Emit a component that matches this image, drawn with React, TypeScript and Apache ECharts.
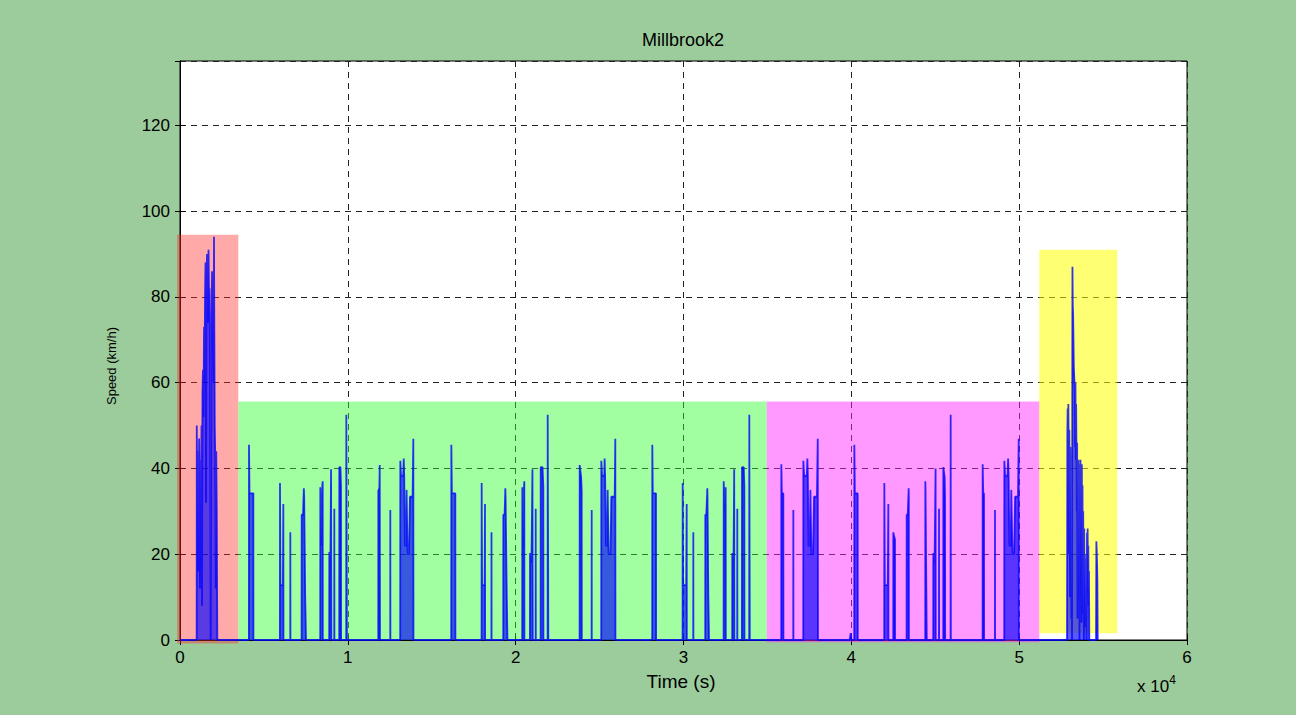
import React, { useEffect, useRef } from "react";
import * as echarts from "echarts";

// ---- Axis setup ----
const xMin = 0;
const xMax = 60000;
const yMin = 0;
const yMax = 135;
const xTickStep = 10000;
const yTickStep = 20;

// ---- Shaded phases: [start s, end s, bottom km/h, top km/h] ----
const phaseNames = ["red", "green", "magenta", "yellow"];
const phaseStart = [-170, 3474, 34958, 51200];
const phaseEnd = [3474, 34958, 51200, 55848];
const phaseBottom = [-0.8, 0, -0.5, 1.6];
const phaseTop = [94.5, 55.6, 55.6, 91];

// ---- Speed trace (time s, speed km/h) ----
const redTrace: [number, number][] = [
  [0, 0], [993, 0], [1000, 50], [1020, 40], [1040, 26], [1060, 40], [1080, 16], [1100, 44],
  [1120, 20], [1140, 47], [1160, 36], [1190, 12], [1220, 42], [1250, 30], [1280, 50], [1310, 8],
  [1340, 58], [1370, 63], [1400, 52], [1430, 73], [1460, 60], [1490, 80], [1520, 88], [1550, 32],
  [1580, 85], [1610, 90], [1640, 82], [1670, 74], [1700, 91], [1730, 80], [1760, 82], [1790, 60],
  [1815, 20], [1827, 0], [1860, 0], [1880, 75], [1910, 86], [1940, 70], [1970, 82], [2000, 60],
  [2026, 94], [2045, 73], [2070, 50], [2100, 43], [2130, 12], [2160, 44], [2190, 30], [2224, 0],
];

const greenTrace: [number, number][] = [
  [4105, 0], [4111, 45.5], [4140, 34.2], [4370, 34.2], [4375, 0],
  [5952, 0], [5958, 36.6], [5985, 12.8], [6130, 12.8], [6157, 31.7], [6165, 0],
  [6570, 0], [6574, 25.1], [6580, 0],
  [7245, 0], [7250, 29.2], [7330, 29.2], [7380, 35.4], [7400, 33], [7460, 10], [7508, 0],
  [8355, 0], [8360, 35.6], [8420, 22], [8480, 36], [8503, 37.0], [8508, 0],
  [8890, 0], [8896, 20.5], [8960, 18], [9000, 39.8], [9015, 39.8], [9020, 0],
  [9190, 0], [9194, 30.6], [9200, 0],
  [9488, 0], [9492, 40.3], [9560, 40.3], [9593, 35.8], [9598, 0],
  [9905, 0], [9910, 52.5], [9930, 24], [9945, 0],
  [11812, 0], [11817, 34.8], [11880, 35.5], [11900, 40.8], [11917, 0],
  [12527, 0], [12531, 30.3], [12536, 0],
  [13120, 0], [13127, 41.8], [13170, 38.3], [13300, 38.3], [13330, 42.3], [13360, 38.3], [13400, 22],
  [13470, 22], [13500, 35], [13560, 20], [13650, 20], [13700, 33.4], [13860, 33.4], [13902, 46.9], [13910, 0],
  [16160, 0], [16167, 45.5], [16200, 34.2], [16405, 34.2], [16410, 0],
  [17968, 0], [17974, 36.6], [18000, 12.8], [18150, 12.8], [18173, 31.7], [18180, 0],
  [18555, 0], [18560, 25.1], [18566, 0],
  [19260, 0], [19265, 29.2], [19340, 29.2], [19384, 35.4], [19400, 33], [19470, 10], [19510, 0],
  [20390, 0], [20396, 35.6], [20460, 22], [20500, 36], [20515, 37], [20520, 0],
  [20850, 0], [20854, 20.3], [20940, 18], [21000, 39.8], [21013, 39.8], [21018, 0],
  [21190, 0], [21194, 30.6], [21200, 0],
  [21488, 0], [21492, 40.3], [21600, 40.3], [21648, 35.8], [21655, 0],
  [21904, 0], [21909, 52.5], [21930, 24], [21945, 0],
  [23810, 0], [23815, 40.8], [23900, 38], [23934, 34.8], [23940, 0],
  [24525, 0], [24530, 30.3], [24535, 0],
  [25098, 0], [25103, 41.8], [25150, 38.3], [25280, 38.3], [25300, 42.3], [25330, 38.3], [25380, 22],
  [25450, 22], [25480, 35], [25540, 20], [25650, 20], [25700, 33.4], [25900, 33.4], [25937, 46.9], [25945, 0],
  [28135, 0], [28141, 45.5], [28170, 34.2], [28362, 34.2], [28368, 0],
  [29946, 0], [29952, 36.6], [29980, 12.8], [30160, 12.8], [30191, 31.7], [30198, 0],
  [30580, 0], [30585, 25.1], [30590, 0],
  [31295, 0], [31300, 29.2], [31360, 29.2], [31419, 35.4], [31430, 33], [31480, 10], [31520, 0],
  [32390, 0], [32396, 37], [32460, 30], [32515, 35.6], [32520, 0],
  [32902, 0], [32907, 20.3], [32980, 18], [33020, 39.8], [33026, 39.8], [33032, 0],
  [33200, 0], [33205, 30.6], [33210, 0],
  [33480, 0], [33486, 40.3], [33590, 40.3], [33625, 35.8], [33632, 0],
  [33916, 0], [33921, 52.5], [33935, 24], [33950, 0],
];

const magentaTrace: [number, number][] = [
  [35824, 0], [35829, 41], [35860, 34.2], [35948, 34.2], [35955, 0],
  [36540, 0], [36544, 30.3], [36550, 0],
  [37135, 0], [37140, 41.8], [37190, 38.3], [37350, 38.3], [37380, 42.3], [37410, 38.3], [37450, 22],
  [37530, 22], [37560, 35], [37620, 20], [37720, 20], [37780, 33.4], [37950, 33.4], [38000, 46.9], [38014, 0],
  [39900, 0], [39962, 1.6], [40000, 0],
  [40173, 0], [40179, 45.5], [40210, 34.2], [40378, 34.2], [40385, 0],
  [41960, 0], [41966, 36.6], [41995, 12.8], [42170, 12.8], [42204, 31.7], [42210, 0],
  [42498, 0], [42502, 25.1], [42560, 24], [42601, 23.5], [42606, 0],
  [43294, 0], [43299, 29.2], [43360, 29.2], [43418, 35.4], [43425, 33], [43430, 0],
  [44404, 0], [44409, 37], [44420, 35], [44489, 2], [44495, 0],
  [44880, 0], [44886, 20.3], [44960, 18], [45020, 40], [45025, 40], [45030, 0],
  [45220, 0], [45224, 30.6], [45230, 0],
  [45478, 0], [45482, 40.3], [45560, 38], [45582, 33.4], [45590, 0],
  [45915, 0], [45920, 52.5], [45930, 0],
  [47820, 0], [47826, 41], [47860, 34.2], [47905, 34.2], [47910, 0],
  [48555, 0], [48560, 30.3], [48565, 0],
  [49110, 0], [49117, 41.8], [49160, 38.3], [49310, 38.3], [49340, 42.3], [49370, 38.3], [49420, 22],
  [49500, 22], [49530, 35], [49600, 20], [49700, 20], [49760, 33.4], [49930, 33.4], [49973, 46.9], [49980, 0],
];

const yellowTrace: [number, number][] = [
  [52850, 0], [52870, 48], [52890, 54], [52910, 30], [52930, 55], [52950, 45], [52970, 20], [52990, 49],
  [53010, 34], [53030, 10], [53050, 45], [53070, 25], [53090, 40], [53110, 5], [53130, 34], [53150, 0],
  [53165, 60], [53175, 87], [53195, 78], [53215, 76], [53235, 70], [53255, 64], [53275, 62], [53295, 60],
  [53315, 58], [53335, 45], [53355, 60], [53375, 42], [53395, 55], [53415, 44], [53435, 30], [53455, 46],
  [53475, 5], [53495, 42], [53515, 20], [53535, 42], [53555, 10], [53575, 41], [53595, 0], [53615, 40],
  [53635, 15], [53655, 42], [53675, 25], [53695, 38], [53715, 4], [53735, 41], [53755, 18], [53775, 36],
  [53795, 6], [53815, 30], [53835, 12], [53855, 0], [53875, 26], [53895, 10], [53915, 20], [53935, 3],
  [53955, 19], [53975, 5], [53995, 17], [54015, 0], [54040, 25], [54060, 18], [54080, 26], [54100, 15],
  [54120, 22], [54140, 8], [54160, 16], [54180, 0], [54580, 0], [54600, 23], [54620, 21], [54640, 18],
  [54660, 14], [54680, 0],
];

const phaseColors = [
  "rgba(255,40,40,0.40)",
  "rgba(40,255,40,0.44)",
  "rgba(255,30,255,0.46)",
  "rgba(255,255,0,0.55)",
];

export default function App() {
  const ref = useRef<HTMLDivElement>(null);
  useEffect(() => {
    if (!ref.current) return;
    const chart = echarts.init(ref.current, undefined, { renderer: "svg" });
    const trace = [...redTrace, ...greenTrace, ...magentaTrace, ...yellowTrace];
    const phaseRows = phaseNames.map((_, i) => [phaseStart[i], phaseEnd[i], phaseBottom[i], phaseTop[i], i]);
    const font = "'Liberation Sans', Arial, sans-serif";
    const splitStyle = { show: true, lineStyle: { color: "#222", type: [6, 5] as any, width: 1 } };
    chart.setOption({
      animation: false,
      backgroundColor: "#9ccc9b",
      grid: {
        left: 180, right: 109, top: 61, bottom: 75,
        show: true, backgroundColor: "#ffffff", borderColor: "#000", borderWidth: 1,
      },
      xAxis: [
        {
          type: "value", min: xMin, max: xMax, interval: xTickStep,
          axisLine: { show: true, onZero: false, lineStyle: { color: "#000" } },
          axisTick: { show: true, inside: true, length: 5, lineStyle: { color: "#000" } },
          axisLabel: {
            color: "#000", fontFamily: font, fontSize: 17, margin: 9,
            formatter: (v: number) => String(v / 10000),
          },
          splitLine: splitStyle,
        },
        {
          type: "value", min: xMin, max: xMax, interval: xTickStep, position: "top",
          axisLine: { show: true, lineStyle: { color: "#000" } },
          axisTick: { show: true, inside: true, length: 5, lineStyle: { color: "#000" } },
          axisLabel: { show: false }, splitLine: { show: false },
        },
      ],
      yAxis: [
        {
          type: "value", min: yMin, max: yMax, interval: yTickStep,
          axisLine: { show: true, onZero: false, lineStyle: { color: "#000" } },
          axisTick: { show: true, inside: true, length: 5, lineStyle: { color: "#000" } },
          axisLabel: { color: "#000", fontFamily: font, fontSize: 17, margin: 10, showMaxLabel: false },
          splitLine: splitStyle,
        },
        {
          type: "value", min: yMin, max: yMax, interval: yTickStep, position: "right",
          axisLine: { show: true, lineStyle: { color: "#000" } },
          axisTick: { show: true, inside: true, length: 5, lineStyle: { color: "#000" } },
          axisLabel: { show: false }, splitLine: { show: false },
        },
      ],
      series: [
        {
          type: "custom", z: 1, silent: true, clip: false,
          encode: { x: [0, 1], y: [2, 3] },
          data: phaseRows,
          renderItem: (_params: any, api: any) => {
            const p0 = api.coord([api.value(0), api.value(3)]);
            const p1 = api.coord([api.value(1), api.value(2)]);
            return {
              type: "rect",
              shape: { x: p0[0], y: p0[1], width: p1[0] - p0[0], height: p1[1] - p0[1] },
              style: { fill: phaseColors[api.value(4)] },
            };
          },
        },
        {
          type: "line", data: trace, showSymbol: false, z: 3,
          lineStyle: { color: "#0000ff", width: 1.8, opacity: 0.78 },
          areaStyle: { color: "#0000ff", opacity: 0.65 },
        },
      ],
      graphic: [
        { type: "text", x: 683, y: 40, style: { text: "Millbrook2", font: `18px ${font}`, fill: "#000", textAlign: "center", textVerticalAlign: "middle" } },
        { type: "text", x: 681, y: 681, style: { text: "Time (s)", font: `19px ${font}`, fill: "#000", textAlign: "center", textVerticalAlign: "middle" } },
        { type: "text", x: 111, y: 366, rotation: Math.PI / 2, style: { text: "Speed (km/h)", font: `13px ${font}`, fill: "#000", textAlign: "center", textVerticalAlign: "middle" } },
        {
          type: "text", x: 1137, y: 686,
          style: {
            text: "x 10{s|4}", font: `17px ${font}`, fill: "#000", textVerticalAlign: "middle",
            rich: { s: { fontSize: 12, fontFamily: font, verticalAlign: "top", padding: [0, 0, 12, 0] } },
          } as any,
        },
      ],
    });
    return () => chart.dispose();
  }, []);
  return <div ref={ref} style={{ position: "fixed", left: 0, top: 0, width: 1296, height: 715 }} />;
}
